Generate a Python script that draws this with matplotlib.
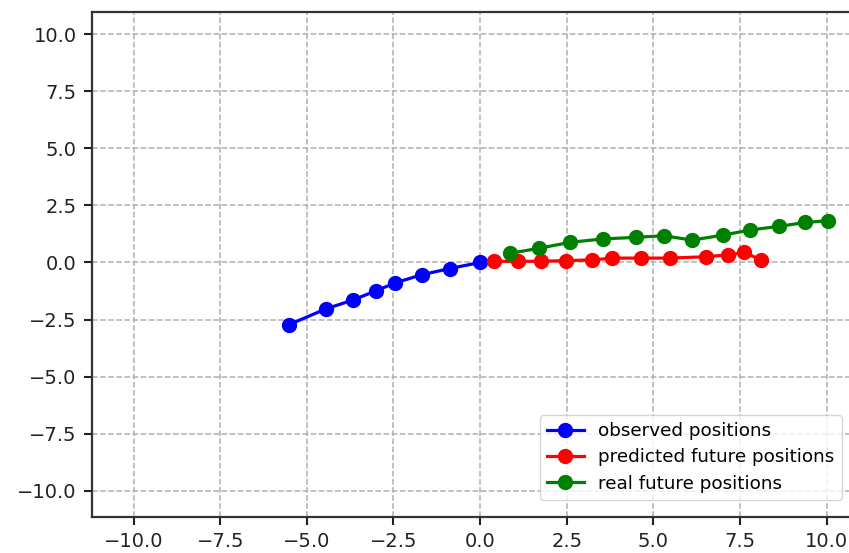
import matplotlib
matplotlib.use("Agg")
from matplotlib import pyplot as plt

# observed trajectory
obs_x = [-5.52, -4.46, -3.66, -3.00, -2.46, -1.69, -0.88, 0.0]
obs_y = [-2.73, -2.04, -1.64, -1.24, -0.90, -0.54, -0.27, 0.0]

# predicted future trajectory
pred_x = [0.40, 1.10, 1.75, 2.47, 3.24, 3.82, 4.65, 5.47, 6.51, 7.15, 7.63, 8.10]
pred_y = [0.05, 0.05, 0.05, 0.08, 0.11, 0.19, 0.19, 0.19, 0.25, 0.33, 0.44, 0.11]

# real future trajectory
real_x = [0.86, 1.70, 2.59, 3.54, 4.51, 5.30, 6.12, 7.02, 7.79, 8.62, 9.39, 10.04]
real_y = [0.40, 0.62, 0.88, 1.03, 1.10, 1.17, 0.98, 1.20, 1.42, 1.58, 1.75, 1.83]

ticks = [-10.0, -7.5, -5.0, -2.5, 0.0, 2.5, 5.0, 7.5, 10.0]


def main():
    fig = plt.figure(figsize=(8.49, 5.53), dpi=100)
    W, H = 849, 553
    x0, x1 = -11.2, 11.2
    y0, y1 = -11.15, 10.95
    sx, sy = 34.65, 22.83
    left, bottom = 92 / W, (H - 517) / H
    ax = fig.add_axes([left, bottom, (x1 - x0) * sx / W, (y1 - y0) * sy / H])

    style = dict(marker='o', markersize=10, linewidth=2.3)
    ax.plot(obs_x, obs_y, color='blue', label='observed positions', **style)
    ax.plot(pred_x, pred_y, color='red', label='predicted future positions', **style)
    ax.plot(real_x, real_y, color='green', label='real future positions', **style)

    ax.set_xlim(x0, x1)
    ax.set_ylim(y0, y1)
    ax.set_xticks(ticks)
    ax.set_yticks(ticks)
    ax.tick_params(labelsize=14, length=6, width=1.5, colors='#222222', pad=5)
    for s in ax.spines.values():
        s.set_linewidth(1.6)
        s.set_color('#333333')
    ax.grid(True, linestyle='--', color='#b0b0b0', linewidth=1.1)
    ax.set_axisbelow(True)

    ax.legend(loc='lower right', bbox_to_anchor=(842 / W, (H - 500) / H),
              bbox_transform=fig.transFigure, fontsize=13.2,
              borderaxespad=0, handlelength=2.0, labelspacing=0.45,
              fancybox=True, edgecolor='#cccccc')

    fig.savefig('out.png', dpi=100)


if __name__ == '__main__':
    main()
